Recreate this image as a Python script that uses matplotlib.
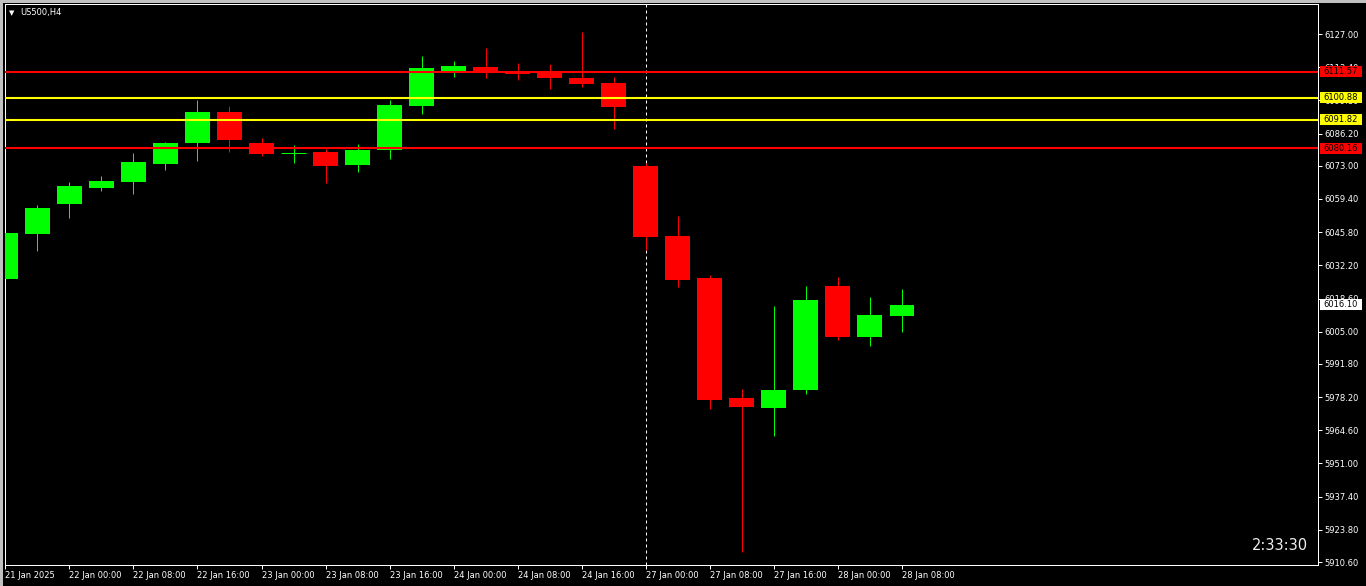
import matplotlib
matplotlib.use("Agg")
import matplotlib.pyplot as plt
from matplotlib.patches import Rectangle

# H4 candles, US500
opens = [6026.7, 6045.2, 6057.5, 6064.0, 6066.5, 6073.8, 6082.5, 6095.0, 6082.3, 6078.1,
         6078.6, 6073.4, 6079.6, 6097.6, 6111.1, 6113.5, 6111.8, 6111.5, 6109.0, 6106.9,
         6072.9, 6044.2, 6027.0, 5977.8, 5973.8, 5981.2, 6023.7, 6002.9, 6011.5]
highs = [6046.3, 6056.9, 6066.3, 6068.8, 6078.2, 6082.7, 6100.0, 6097.5, 6084.4, 6081.5,
         6080.0, 6081.9, 6100.0, 6118.0, 6115.9, 6121.3, 6115.1, 6114.7, 6127.8, 6109.4,
         6074.1, 6052.4, 6028.2, 5981.5, 6015.5, 6023.7, 6027.4, 6019.2, 6022.5]
lows = [6007.7, 6038.2, 6051.7, 6062.8, 6061.5, 6071.4, 6075.1, 6078.8, 6077.1, 6074.3,
        6066.1, 6070.6, 6075.9, 6094.3, 6109.5, 6109.1, 6108.3, 6104.6, 6105.4, 6088.2,
        6038.5, 6023.4, 5973.4, 5914.8, 5962.4, 5979.6, 6001.7, 5999.1, 6005.0]
closes = [6045.4, 6055.7, 6064.7, 6066.8, 6074.5, 6082.3, 6095.0, 6083.7, 6077.9, 6078.1,
          6073.0, 6079.5, 6097.9, 6113.1, 6113.9, 6111.5, 6110.7, 6109.1, 6106.6, 6097.2,
          6043.9, 6026.3, 5977.1, 5974.3, 5981.1, 6018.0, 6002.9, 6011.8, 6016.10]

time_labels = ["21 Jan 2025", "22 Jan 00:00", "22 Jan 08:00", "22 Jan 16:00", "23 Jan 00:00",
               "23 Jan 08:00", "23 Jan 16:00", "24 Jan 00:00", "24 Jan 08:00", "24 Jan 16:00",
               "27 Jan 00:00", "27 Jan 08:00", "27 Jan 16:00", "28 Jan 00:00", "28 Jan 08:00"]
price_ticks = [6127.00, 6113.40, 6099.80, 6086.20, 6073.00, 6059.40, 6045.80, 6032.20,
               6018.60, 6005.00, 5991.80, 5978.20, 5964.60, 5951.00, 5937.40, 5923.80, 5910.60]

level_prices = [6111.57, 6100.88, 6091.82, 6080.16]
level_colors = ['#ff0000', '#ffff00', '#ffff00', '#ff0000']
separator_idx = 20  # 27 Jan 00:00

W, H = 1366, 586
fig = plt.figure(figsize=(W / 100, H / 100), dpi=100, facecolor='black')
ax = fig.add_axes([5 / W, 1 - 565 / H, 1313 / W, 561 / H], facecolor='black')

px = 0.72  # one pixel in points
bull, bear = '#00ff00', '#ff0000'
n = len(opens)
xs = list(range(n))

ax.axvline(separator_idx, color='white', lw=px, linestyle=(0, (3, 3)), zorder=1)

for i in xs:
    o, h, l, c = opens[i], highs[i], lows[i], closes[i]
    col = bull if c >= o else bear
    ax.vlines(i, l, h, colors=col, lw=px, zorder=2)
    if abs(c - o) < 0.05:
        ax.hlines(o, i - 0.39, i + 0.39, colors=col, lw=px, zorder=3)
    else:
        ax.bar(i, abs(c - o), bottom=min(o, c), width=0.78, color=col, linewidth=0, zorder=3)

for p, col in zip(level_prices, level_colors):
    ax.axhline(p, color=col, lw=1.5, zorder=4)

ax.set_xlim(-0.01, 40.99)
ax.set_ylim(5909.4, 6139.3)

ax.set_xticks(xs[::2])
ax.set_xticklabels(time_labels, ha='left')
ax.yaxis.tick_right()
ax.set_yticks(price_ticks)
ax.set_yticklabels([f'{v:.2f}' for v in price_ticks])
ax.tick_params(axis='both', colors='white', labelcolor='white', labelsize=6,
               direction='out', length=2.9, width=px, pad=1.5)
for s in ax.spines.values():
    s.set_color('white')
    s.set_linewidth(px)

# price labels on the right scale
ytr = ax.get_yaxis_transform()
bw = 42 / 1313
bh = 11 / 2.44
for p, col in zip(level_prices + [closes[-1]], level_colors + ['white']):
    ax.add_patch(Rectangle((1 + 2 / 1313, p - bh / 2), bw, bh, transform=ytr,
                           facecolor=col, edgecolor='none', clip_on=False, zorder=6))
    ax.text(1 + 5 / 1313, p, f'{p:.2f}', transform=ytr, fontsize=6, color='black',
            va='center', ha='left', clip_on=False, zorder=7)

ax.text((1308 - 5) / 1313, (565 - 546) / 561, '2:33:30', transform=ax.transAxes,
        fontsize=10.5, color='#f0f0f0', ha='right', va='center')

fig.text(9 / W, 1 - 13 / H, '\u25bc', fontsize=5, color='white', ha='left', va='center')
fig.text(20 / W, 1 - 13 / H, 'US500,H4', fontsize=6, color='white', ha='left', va='center')

# window frame
fig.add_artist(Rectangle((0, 1 - 3 / H), 1, 3 / H, transform=fig.transFigure,
                         facecolor='#c0c0c0', edgecolor='none'))
fig.add_artist(Rectangle((0, 0), 3 / W, 1, transform=fig.transFigure,
                         facecolor='#c0c0c0', edgecolor='none'))

fig.savefig('out.png', dpi=100, facecolor='black')
